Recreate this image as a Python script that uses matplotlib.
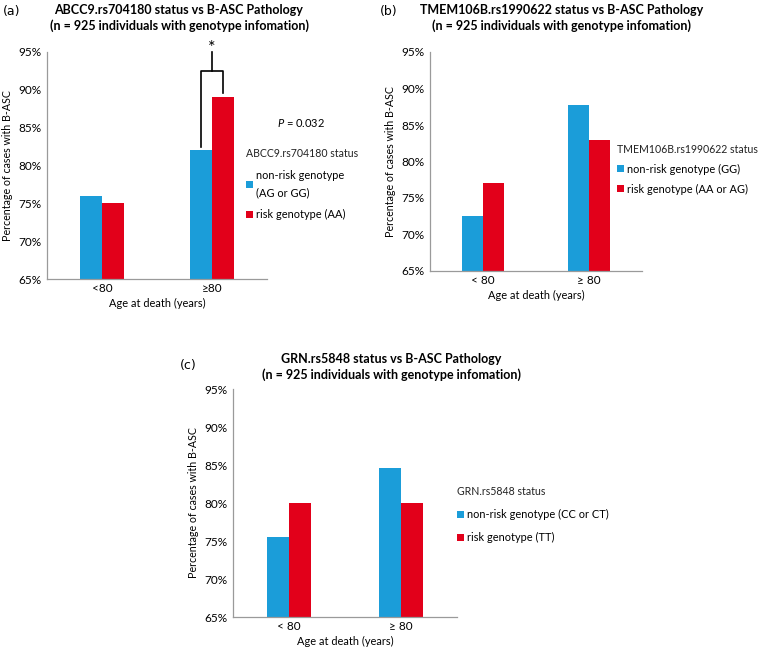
import matplotlib
matplotlib.use('Agg')
import matplotlib.pyplot as plt

plt.rcParams['font.family'] = ['Lato', 'DejaVu Sans']
plt.rcParams['mathtext.fontset'] = 'custom'
plt.rcParams['mathtext.it'] = 'Lato:italic'
plt.rcParams['mathtext.rm'] = 'Lato'

BLUE = '#1b9dd9'
RED = '#e2001a'
W, H = 760, 660

# data
groups_a = ['<80', '\u226580']
groups_bc = ['< 80', '\u2265 80']
abcc9_nonrisk = [76.0, 82.0]
abcc9_risk = [75.0, 89.0]
tmem_nonrisk = [72.5, 87.8]
tmem_risk = [77.0, 83.0]
grn_nonrisk = [75.5, 84.6]
grn_risk = [80.0, 80.0]
yticks = [65, 70, 75, 80, 85, 90, 95]

panels = [
    dict(tag='(a)', title='ABCC9.rs704180 status vs B-ASC Pathology',
         box=(47, 267, 52, 279), groups=groups_a, v1=abcc9_nonrisk, v2=abcc9_risk,
         leg_title='ABCC9.rs704180 status',
         labels=['non-risk genotype\n(AG or GG)', 'risk genotype (AA)'],
         leg_xy=(246, 148), tag_xy=(3, 11), title_xy=(179, 4), lsp=1.0),
    dict(tag='(b)', title='TMEM106B.rs1990622 status vs B-ASC Pathology',
         box=(430, 642, 52, 271), groups=groups_bc, v1=tmem_nonrisk, v2=tmem_risk,
         leg_title='TMEM106B.rs1990622 status',
         labels=['non-risk genotype (GG)', 'risk genotype (AA or AG)'],
         leg_xy=(617, 144), tag_xy=(380, 11), title_xy=(562, 4), lsp=0.8),
    dict(tag='(c)', title='GRN.rs5848 status vs B-ASC Pathology',
         box=(233, 457, 389, 617), groups=groups_bc, v1=grn_nonrisk, v2=grn_risk,
         leg_title='GRN.rs5848 status',
         labels=['non-risk genotype (CC or CT)', 'risk genotype (TT)'],
         leg_xy=(457, 486), tag_xy=(180, 366), title_xy=(391, 353), lsp=1.1),
]

fig = plt.figure(figsize=(W / 100, H / 100), dpi=100)
axes = []
for p in panels:
    l, r, t, b = p['box']
    ax = fig.add_axes([l / W, 1 - b / H, (r - l) / W, (b - t) / H])
    axes.append(ax)
    x = [0, 1]
    ax.bar([i - 0.1 for i in x], [v - 65 for v in p['v1']], bottom=65, width=0.2,
           color=BLUE, label=p['labels'][0])
    ax.bar([i + 0.1 for i in x], [v - 65 for v in p['v2']], bottom=65, width=0.2,
           color=RED, label=p['labels'][1])
    ax.set_xlim(-0.5, 1.5)
    ax.set_ylim(65, 95)
    ax.set_yticks(yticks)
    ax.set_yticklabels([f'{v}%' for v in yticks], fontsize=8.5)
    ax.set_xticks(x)
    ax.set_xticklabels(p['groups'], fontsize=8.5)
    ax.tick_params(length=0, pad=3)
    ax.tick_params(axis='y', pad=4)
    for s in ['top', 'right']:
        ax.spines[s].set_visible(False)
    for s in ['left', 'bottom']:
        ax.spines[s].set_color('#9a9a9a')
        ax.spines[s].set_linewidth(0.9)
    ax.set_ylabel('Percentage of cases with B-ASC', fontsize=7.7, labelpad=4)
    ax.set_xlabel('Age at death (years)', fontsize=7.9, labelpad=3)
    fig.text(p['tag_xy'][0] / W, 1 - p['tag_xy'][1] / H, p['tag'], fontsize=9,
             va='center', ha='left', family=['DejaVu Sans'])
    fig.text(p['title_xy'][0] / W, 1 - p['title_xy'][1] / H,
             p['title'] + '\n(n = 925 individuals with genotype infomation)',
             fontsize=9, fontweight='bold', ha='center', va='top', linespacing=1.3)
    leg = ax.legend(title=p['leg_title'], loc='upper left',
                    bbox_to_anchor=(p['leg_xy'][0] / W, 1 - p['leg_xy'][1] / H),
                    bbox_transform=fig.transFigure, frameon=False, fontsize=7.9,
                    title_fontsize=7.6, handlelength=0.6, handleheight=0.6,
                    handletextpad=0.3, labelspacing=p['lsp'], alignment='left',
                    borderaxespad=0, borderpad=0)
    leg.get_title().set_color('#222222')
    for txt in leg.get_texts():
        txt.set_linespacing(1.7)

# significance bracket on panel (a)
ax = axes[0]
bx1, bx2 = 1 - 0.1, 1 + 0.1
ax.plot([bx1, bx1, bx2, bx2], [82.4, 92.5, 92.5, 89.6], color='black', lw=1.2, clip_on=False)
ax.plot([1, 1], [92.5, 95.0], color='black', lw=1.2, clip_on=False)
ax.text(1, 95.5, '*', ha='center', va='center', fontsize=13)
fig.text(301 / W, 1 - 123 / H, r'$\mathit{P}$ = 0.032', ha='center', va='center', fontsize=8)

fig.savefig('out.png', dpi=100)
